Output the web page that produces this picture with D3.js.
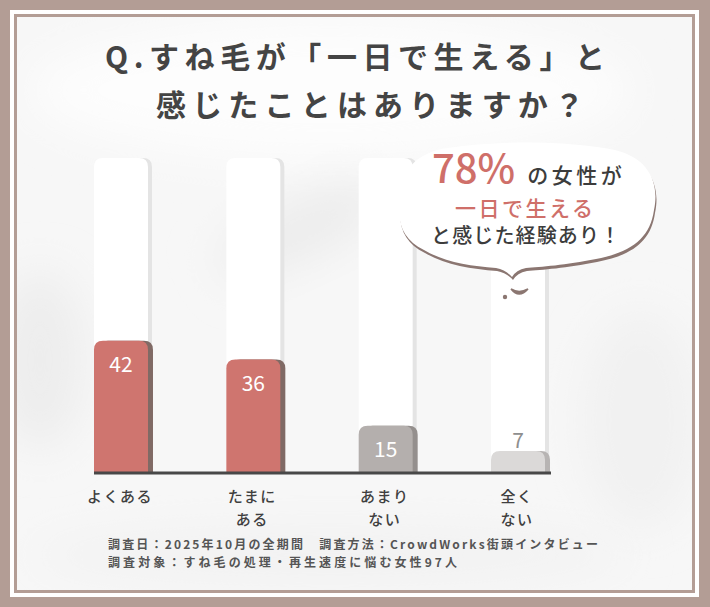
<!DOCTYPE html>
<html>
<head>
<meta charset="utf-8">
<script src="https://cdn.jsdelivr.net/npm/d3@7"></script>
<style>
  html, body { margin: 0; padding: 0; background: #b39d95; }
  svg { display: block; }
  text { font-family: "Noto Sans CJK JP", "Noto Sans", sans-serif; }
</style>
</head>
<body>
<svg id="chart" width="710" height="607"></svg>
<script>
// survey answers and counts (percent)
var categories = ["よくある", "たまにある", "あまりない", "全くない"];
var values = [42, 36, 15, 7];
var tickLines = [["よくある"], ["たまに", "ある"], ["あまり", "ない"], ["全く", "ない"]];
var barColors = ["#cf756f", "#cf756f", "#b4afad", "#dbd9d8"];
var shadowColors = ["#806a65", "#806a65", "#948f8d", "#b7b4b3"];

var titleLines = ["Q.すね毛が「一日で生える」と", "感じたことはありますか？"];
var notes = [
  "調査日：2025年10月の全期間　調査方法：CrowdWorks街頭インタビュー",
  "調査対象：すね毛の処理・再生速度に悩む女性97人"
];

var svg = d3.select("#chart");
var W = 710, H = 607;

var defs = svg.append("defs");
defs.append("filter").attr("id", "soft")
  .attr("x", "-50%").attr("y", "-50%").attr("width", "200%").attr("height", "200%")
  .append("feGaussianBlur").attr("stdDeviation", 22);

// frame
svg.append("rect").attr("width", W).attr("height", H).attr("fill", "#b39d95");
svg.append("rect").attr("x", 10).attr("y", 10).attr("width", 689).attr("height", 587).attr("fill", "#ffffff");
svg.append("rect").attr("x", 15.5).attr("y", 15.5).attr("width", 678).attr("height", 576)
  .attr("fill", "#f7f7f7").attr("stroke", "#b39d95").attr("stroke-width", 3);

// soft background texture
defs.append("clipPath").attr("id", "panelClip").append("rect")
  .attr("x", 17).attr("y", 17).attr("width", 675).attr("height", 573);
var bg = svg.append("g").attr("clip-path", "url(#panelClip)");
bg.append("ellipse").attr("cx", 330).attr("cy", 90).attr("rx", 300).attr("ry", 70)
  .attr("fill", "#fdfdfd").attr("filter", "url(#soft)");
bg.append("ellipse").attr("cx", 40).attr("cy", 360).attr("rx", 45).attr("ry", 90)
  .attr("fill", "#ededed").attr("filter", "url(#soft)");
bg.append("ellipse").attr("cx", 300).attr("cy", 230).attr("rx", 90).attr("ry", 30)
  .attr("transform", "rotate(-25 300 230)")
  .attr("fill", "#ececec").attr("filter", "url(#soft)");
bg.append("ellipse").attr("cx", 640).attr("cy", 420).attr("rx", 60).attr("ry", 110)
  .attr("fill", "#f1f1f1").attr("filter", "url(#soft)");
bg.append("ellipse").attr("cx", 330).attr("cy", 555).attr("rx", 300).attr("ry", 30)
  .attr("fill", "#f2f2f2").attr("filter", "url(#soft)");

// title
svg.append("text").attr("x", 105).attr("y", 68)
  .attr("textLength", 500).attr("lengthAdjust", "spacing")
  .attr("font-size", 30).attr("font-weight", 700).attr("fill", "#444")
  .text(titleLines[0]);
svg.append("text").attr("x", 156).attr("y", 116)
  .attr("textLength", 428).attr("lengthAdjust", "spacing")
  .attr("font-size", 30).attr("font-weight", 700).attr("fill", "#444")
  .text(titleLines[1]);

// scales
var x = d3.scaleBand().domain(categories).range([94, 545])
  .paddingInner(0.592).paddingOuter(0);
var y = d3.scaleLinear().domain([0, 100]).range([473, 158]);
var bw = x.bandwidth();

function topRounded(x0, y0, w, h, r) {
  r = Math.min(r, h, w / 2);
  return "M" + x0 + "," + (y0 + h) +
    "V" + (y0 + r) +
    "Q" + x0 + "," + y0 + " " + (x0 + r) + "," + y0 +
    "H" + (x0 + w - r) +
    "Q" + (x0 + w) + "," + y0 + " " + (x0 + w) + "," + (y0 + r) +
    "V" + (y0 + h) + "Z";
}

// background tracks
var tracks = svg.append("g");
tracks.selectAll(".trackShadow").data(categories).join("path")
  .attr("d", function(d) { return topRounded(x(d) + 4, y(100), bw, y(0) - y(100), 9); })
  .attr("fill", "#e4e4e4");
tracks.selectAll(".track").data(categories).join("path")
  .attr("d", function(d) { return topRounded(x(d), y(100), bw, y(0) - y(100), 9); })
  .attr("fill", "#ffffff");

// bars
var bars = svg.append("g");
bars.selectAll(".shadow").data(values).join("path")
  .attr("d", function(d, i) { return topRounded(x(categories[i]) + 5, y(d), bw, y(0) - y(d), 9); })
  .attr("fill", function(d, i) { return shadowColors[i]; });
bars.selectAll(".bar").data(values).join("path")
  .attr("d", function(d, i) { return topRounded(x(categories[i]), y(d), bw, y(0) - y(d), 9); })
  .attr("fill", function(d, i) { return barColors[i]; });

// value labels
bars.selectAll(".val").data(values).join("text")
  .attr("x", function(d, i) { return x(categories[i]) + bw / 2; })
  .attr("y", function(d) { return d < 10 ? y(d) - 3 : y(d) + 31; })
  .attr("text-anchor", "middle")
  .attr("font-size", 21).attr("font-weight", 400)
  .attr("fill", function(d) { return d < 10 ? "#8e8e8e" : "#ffffff"; })
  .text(function(d) { return d; });

// baseline
svg.append("line").attr("x1", 94).attr("x2", 551).attr("y1", y(0)).attr("y2", y(0))
  .attr("stroke", "#484848").attr("stroke-width", 3);

// category labels
var cats = svg.append("g");
categories.forEach(function(c, i) {
  var t = cats.append("text")
    .attr("text-anchor", "middle")
    .attr("font-size", 15).attr("font-weight", 500).attr("fill", "#3f3f3f")
    .attr("letter-spacing", 1.5);
  tickLines[i].forEach(function(s, j) {
    t.append("tspan").attr("x", x(c) + bw / 2 - 1).attr("y", 502 + j * 23).text(s);
  });
});

// speech bubble
var cloud = "M400,205 C396,176 414,152 448,148 C500,140 570,141 615,150 " +
  "C648,158 660,182 654,210 C650,238 632,252 596,259 C566,265 540,267 526,268 " +
  "Q516,270 512,277 Q506,270 496,268 C470,266 444,262 424,250 C404,240 397,224 400,205 Z";
svg.append("path").attr("d", cloud).attr("transform", "translate(1,3)").attr("fill", "#8b7671");
svg.append("path").attr("d", cloud).attr("fill", "#ffffff");
svg.append("circle").attr("cx", 505).attr("cy", 297).attr("r", 2.2).attr("fill", "#8b7671");
svg.append("path").attr("d", "M511,289 Q519,299 528,289 Q519,294 511,289 Z")
  .attr("fill", "#8b7671").attr("stroke", "#8b7671").attr("stroke-width", 1.5);

var b1 = svg.append("text").attr("x", 432).attr("y", 183);
b1.append("tspan").attr("font-size", 40).attr("font-weight", 500).attr("fill", "#cf6f69").text("78%");
b1.append("tspan").attr("dx", 12).attr("font-size", 21).attr("font-weight", 500)
  .attr("fill", "#3c3c3c").attr("letter-spacing", 3.5).text("の女性が");
svg.append("text").attr("x", 455).attr("y", 216)
  .attr("textLength", 138).attr("lengthAdjust", "spacing")
  .attr("font-size", 21).attr("font-weight", 500).attr("fill", "#cf6f69")
  .text("一日で生える");
svg.append("text").attr("x", 431).attr("y", 243)
  .attr("textLength", 189).attr("lengthAdjust", "spacing")
  .attr("font-size", 20).attr("font-weight", 500).attr("fill", "#3c3c3c")
  .text("と感じた経験あり！");

// notes
svg.append("text").attr("x", 108).attr("y", 549)
  .attr("textLength", 490).attr("lengthAdjust", "spacing")
  .attr("font-size", 12).attr("font-weight", 700).attr("fill", "#555")
  .text(notes[0]);
svg.append("text").attr("x", 108).attr("y", 567)
  .attr("textLength", 349).attr("lengthAdjust", "spacing")
  .attr("font-size", 12).attr("font-weight", 700).attr("fill", "#555")
  .text(notes[1]);
</script>
</body>
</html>
